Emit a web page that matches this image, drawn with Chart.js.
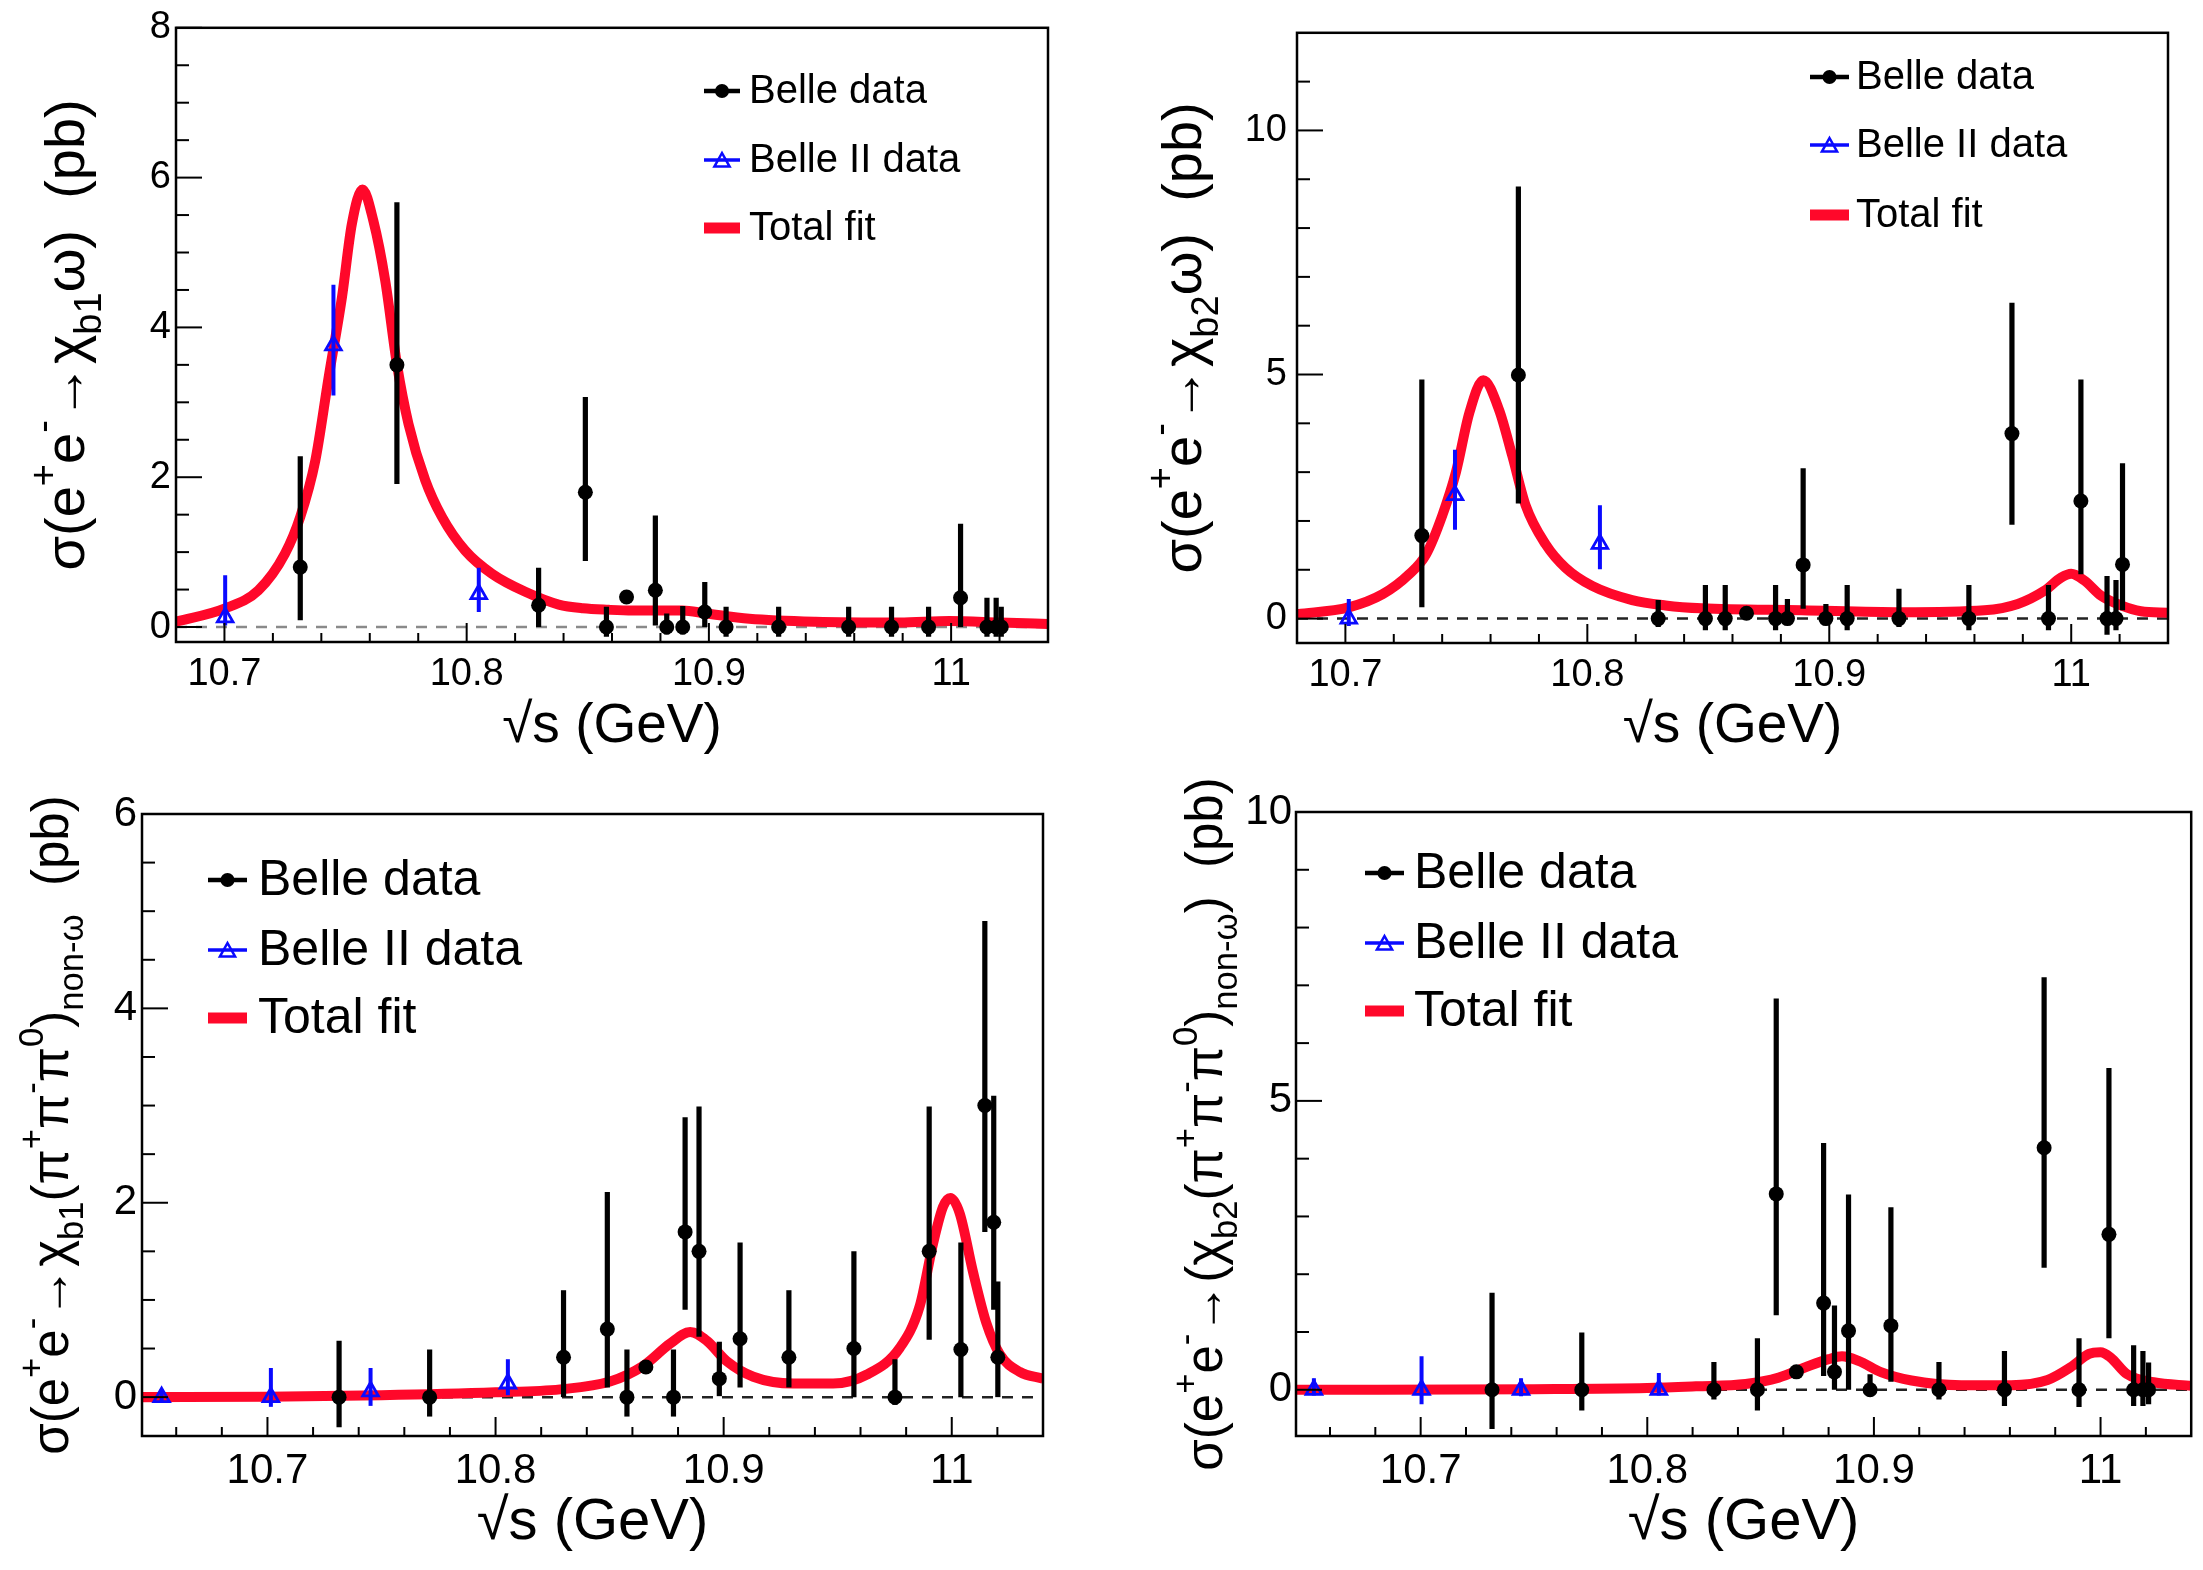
<!DOCTYPE html>
<html>
<head>
<meta charset="utf-8">
<script src="https://cdn.jsdelivr.net/npm/chart.js@4.4.0/dist/chart.umd.min.js"></script>
<style>
  html, body { margin: 0; padding: 0; background: #fff; }
  #wrap { position: relative; width: 2203px; height: 1570px; }
  canvas { position: absolute; }
</style>
</head>
<body>
<div id="wrap">
  <canvas id="c1"></canvas>
  <canvas id="c2"></canvas>
  <canvas id="c3"></canvas>
  <canvas id="c4"></canvas>
</div>
<script>
// ---------- chi_b1 omega ----------
const p1BelleX  = [10.7313, 10.7712, 10.8297, 10.849, 10.8577, 10.866, 10.8779, 10.8826, 10.8892, 10.8983, 10.9071, 10.9288, 10.9577, 10.9754, 10.9907, 11.0039, 11.0148, 11.0186, 11.0207];
const p1BelleY  = [0.80, 3.50, 0.29, 1.80, 0.00, 0.40, 0.49, 0.00, 0.00, 0.20, 0.00, 0.00, 0.00, 0.00, 0.00, 0.39, 0.00, 0.00, 0.00];
const p1BelleLo = [0.09, 1.91, 0.00, 0.88, -0.13, 0.36, 0.02, -0.10, -0.10, 0.00, -0.13, -0.13, -0.13, -0.13, -0.13, 0.00, -0.13, -0.13, -0.13];
const p1BelleHi = [2.28, 5.67, 0.79, 3.07, 0.27, 0.44, 1.49, 0.18, 0.28, 0.60, 0.27, 0.27, 0.27, 0.27, 0.27, 1.38, 0.39, 0.39, 0.27];
const p1Belle2X  = [10.7003, 10.745, 10.805];
const p1Belle2Y  = [0.13, 3.76, 0.44];
const p1Belle2Lo = [0.02, 3.09, 0.20];
const p1Belle2Hi = [0.69, 4.57, 0.79];
const p1FitX = [10.68, 10.70, 10.714, 10.725, 10.7313, 10.7375, 10.743, 10.7485, 10.7526, 10.757, 10.7615, 10.7664, 10.7712, 10.776, 10.7829, 10.7898, 10.7994, 10.8105, 10.8242, 10.838, 10.848, 10.8586, 10.8685, 10.889, 10.8989, 10.9167, 10.944, 10.9787, 10.9993, 11.02, 11.04];
const p1FitY = [0.07, 0.245, 0.49, 0.98, 1.47, 2.22, 3.33, 4.40, 5.38, 5.84, 5.42, 4.62, 3.51, 2.71, 1.96, 1.47, 1.02, 0.71, 0.47, 0.30, 0.25, 0.23, 0.22, 0.22, 0.18, 0.11, 0.07, 0.06, 0.08, 0.06, 0.04];

// ---------- chi_b2 omega ----------
const p2BelleX  = [10.7316, 10.7715, 10.8293, 10.8488, 10.857, 10.8658, 10.8778, 10.8827, 10.8892, 10.8986, 10.9074, 10.9288, 10.9577, 10.9755, 10.9906, 11.004, 11.0148, 11.0185, 11.0212];
const p2BelleY  = [1.70, 4.99, 0, 0, 0, 0.11, 0, 0, 1.10, 0, 0, 0, 0, 3.79, 0, 2.41, 0, 0, 1.11];
const p2BelleLo = [0.23, 2.36, -0.17, -0.24, -0.24, 0.05, -0.24, -0.13, 0.20, -0.13, -0.24, -0.17, -0.24, 1.92, -0.24, 0.91, -0.33, -0.24, 0.17];
const p2BelleHi = [4.90, 8.85, 0.38, 0.69, 0.69, 0.17, 0.69, 0.40, 3.08, 0.30, 0.69, 0.61, 0.69, 6.47, 0.69, 4.90, 0.87, 0.79, 3.18];
const p2Belle2X  = [10.7014, 10.7453, 10.8052];
const p2Belle2Y  = [0.0, 2.53, 1.53];
const p2Belle2Lo = [-0.15, 1.82, 1.01];
const p2Belle2Hi = [0.40, 3.46, 2.32];
const p2FitX = [10.68, 10.7014, 10.7154, 10.7264, 10.7333, 10.7401, 10.7457, 10.7512, 10.757, 10.7635, 10.769, 10.7745, 10.7828, 10.791, 10.802, 10.8185, 10.8323, 10.8473, 10.8886, 10.93, 10.9641, 10.9779, 10.9889, 10.9958, 11.0, 11.0054, 11.0123, 11.0206, 11.0288, 11.04];
const p2FitY = [0.09, 0.23, 0.50, 0.91, 1.31, 2.12, 3.00, 4.21, 4.88, 4.28, 3.33, 2.32, 1.52, 1.04, 0.67, 0.38, 0.27, 0.21, 0.17, 0.13, 0.17, 0.30, 0.57, 0.84, 0.92, 0.78, 0.47, 0.27, 0.15, 0.12];

// ---------- chi_b1 (pi+ pi- pi0) non-omega ----------
const p3BelleX  = [10.7314, 10.7711, 10.8298, 10.849, 10.8576, 10.8659, 10.878, 10.8831, 10.8892, 10.8981, 10.9072, 10.9286, 10.9571, 10.9751, 10.9901, 11.004, 11.0145, 11.0184, 11.0202];
const p3BelleY  = [0, 0, 0.41, 0.70, 0, 0.31, 0, 1.70, 1.50, 0.19, 0.60, 0.41, 0.50, 0, 1.50, 0.49, 3.00, 1.80, 0.41];
const p3BelleLo = [-0.31, -0.20, 0, 0.10, -0.20, 0.27, -0.20, 0.90, 0.62, 0.01, 0.10, 0.10, 0, -0.08, 0.59, 0, 1.70, 0.90, 0];
const p3BelleHi = [0.58, 0.49, 1.10, 2.11, 0.49, 0.35, 0.49, 2.88, 2.99, 0.57, 1.59, 1.10, 1.50, 0.39, 2.99, 1.59, 4.90, 3.10, 1.19];
const p3Belle2X  = [10.6536, 10.7015, 10.7452, 10.8054];
const p3Belle2Y  = [0, 0, 0.06, 0.14];
const p3Belle2Lo = [-0.06, -0.10, -0.09, 0.02];
const p3Belle2Hi = [0.08, 0.30, 0.30, 0.39];
const p3FitX = [10.645, 10.70, 10.75, 10.80, 10.8283, 10.8502, 10.8647, 10.8765, 10.8853, 10.8926, 10.9013, 10.913, 10.9305, 10.948, 10.9626, 10.9773, 10.986, 10.9918, 10.9962, 10.9994, 11.0035, 11.0093, 11.0152, 11.0211, 11.0298, 11.04];
const p3FitY = [0.0, 0.005, 0.02, 0.05, 0.08, 0.16, 0.32, 0.55, 0.67, 0.58, 0.37, 0.21, 0.14, 0.14, 0.23, 0.51, 0.94, 1.58, 1.96, 2.05, 1.89, 1.29, 0.76, 0.44, 0.26, 0.19];

// ---------- chi_b2 (pi+ pi- pi0) non-omega ----------
const p4BelleX  = [10.7315, 10.7711, 10.8294, 10.8486, 10.8569, 10.8658, 10.8778, 10.8826, 10.8888, 10.8983, 10.9075, 10.9287, 10.9576, 10.9751, 10.9905, 11.0037, 11.0146, 11.0187, 11.0212];
const p4BelleY  = [0, 0, 0, 0, 3.39, 0.31, 1.50, 0.31, 1.02, 0, 1.11, 0, 0, 4.19, 0, 2.69, 0, 0, 0];
const p4BelleLo = [-0.68, -0.36, -0.17, -0.36, 1.29, 0.26, 0.24, 0, 0, -0.05, 0.14, -0.17, -0.28, 2.11, -0.30, 0.89, -0.28, -0.28, -0.25];
const p4BelleHi = [1.68, 0.99, 0.48, 0.89, 6.77, 0.36, 4.27, 1.46, 3.38, 0.27, 3.16, 0.48, 0.67, 7.14, 0.89, 5.57, 0.77, 0.67, 0.47];
const p4Belle2X  = [10.6529, 10.7004, 10.7443, 10.8051];
const p4Belle2Y  = [0, 0, 0, 0];
const p4Belle2Lo = [-0.10, -0.25, -0.11, -0.10];
const p4Belle2Hi = [0.20, 0.58, 0.20, 0.29];
const p4FitX = [10.645, 10.75, 10.80, 10.8215, 10.8434, 10.858, 10.8698, 10.88, 10.8859, 10.8932, 10.9034, 10.9166, 10.9385, 10.9605, 10.9766, 10.9868, 10.9949, 11.0, 11.0044, 11.0117, 11.0234, 11.04];
const p4FitY = [0.0, 0.01, 0.03, 0.06, 0.10, 0.21, 0.39, 0.53, 0.58, 0.50, 0.30, 0.16, 0.08, 0.08, 0.17, 0.39, 0.62, 0.65, 0.56, 0.27, 0.13, 0.07];

// ---------- axes ----------
const xMajor = [10.7, 10.8, 10.9, 11];
const p1YMajor = [0, 2, 4, 6, 8];
const p2YMajor = [0, 5, 10];
const p3YMajor = [0, 2, 4, 6];
const p4YMajor = [0, 5, 10];
const legendLabels = ['Belle data', 'Belle II data', 'Total fit'];
const xTitle = '\u221As (GeV)';

// y titles as [text, 'sup'|'sub'|undefined] pieces
const p1Title = [['σ(e'], ['+', 'sup'], ['e'], ['-', 'sup'], ['→χ'], ['b1', 'sub'], ['ω)  (pb)']];
const p2Title = [['σ(e'], ['+', 'sup'], ['e'], ['-', 'sup'], ['→χ'], ['b2', 'sub'], ['ω)  (pb)']];
const p3Title = [['σ(e'], ['+', 'sup'], ['e'], ['-', 'sup'], ['→χ'], ['b1', 'sub'], ['(π'], ['+', 'sup'], ['π'], ['-', 'sup'], ['π'], ['0', 'sup'], [')'], ['non-ω', 'sub'], ['  (pb)']];
const p4Title = [['σ(e'], ['+', 'sup'], ['e'], ['-', 'sup'], ['→(χ'], ['b2', 'sub'], ['(π'], ['+', 'sup'], ['π'], ['-', 'sup'], ['π'], ['0', 'sup'], [')'], ['non-ω', 'sub'], [')  (pb)']];

const FONT = '"Liberation Sans", Arial, Helvetica, sans-serif';
const RED = 'rgb(255,8,42)';
const BLUE = '#0a0aff';

const panels = [
  { id: 'c1', left: 0, top: 0, w: 1100, h: 780,
    frame: { left: 176, top: 27, right: 1048, bottom: 642 },
    xMin: 10.68, xMax: 11.04, yMin: -0.2, yMax: 8, yMajor: p1YMajor, yMinorStep: 0.5,
    belle: { x: p1BelleX, y: p1BelleY, lo: p1BelleLo, hi: p1BelleHi },
    belle2: { x: p1Belle2X, y: p1Belle2Y, lo: p1Belle2Lo, hi: p1Belle2Hi },
    fit: { x: p1FitX, y: p1FitY },
    zeroColor: '#8a8a8a', title: p1Title, titleBase: 84, titleFont: 56,
    tickFont: 38, yPad: 5, xTitleY: 727, xTitleFont: 55,
    legend: { x0: 704, x1: 740, tx: 749, rows: [91, 160, 228], font: 40 } },
  { id: 'c2', left: 1100, top: 0, w: 1103, h: 780,
    frame: { left: 197, top: 25, right: 1068, bottom: 643 },
    xMin: 10.68, xMax: 11.04, yMin: -0.5, yMax: 12, yMajor: p2YMajor, yMinorStep: 1,
    belle: { x: p2BelleX, y: p2BelleY, lo: p2BelleLo, hi: p2BelleHi },
    belle2: { x: p2Belle2X, y: p2Belle2Y, lo: p2Belle2Lo, hi: p2Belle2Hi },
    fit: { x: p2FitX, y: p2FitY },
    zeroColor: '#222', title: p2Title, titleBase: 101, titleFont: 56,
    tickFont: 38, yPad: 10, xTitleY: 727, xTitleFont: 55,
    legend: { x0: 710, x1: 749, tx: 756, rows: [77, 145, 215], font: 40 } },
  { id: 'c3', left: 0, top: 780, w: 1100, h: 790,
    frame: { left: 142, top: 34, right: 1043, bottom: 656 },
    xMin: 10.645, xMax: 11.04, yMin: -0.4, yMax: 6, yMajor: p3YMajor, yMinorStep: 0.5,
    belle: { x: p3BelleX, y: p3BelleY, lo: p3BelleLo, hi: p3BelleHi },
    belle2: { x: p3Belle2X, y: p3Belle2Y, lo: p3Belle2Lo, hi: p3Belle2Hi },
    fit: { x: p3FitX, y: p3FitY },
    zeroColor: '#222', title: p3Title, titleBase: 68, titleFont: 51,
    tickFont: 42, yPad: 5, xTitleY: 743, xTitleFont: 58,
    legend: { x0: 208, x1: 247, tx: 258, rows: [100, 170, 238], font: 50 } },
  { id: 'c4', left: 1100, top: 780, w: 1103, h: 790,
    frame: { left: 196, top: 32, right: 1096, bottom: 656 },
    xMin: 10.645, xMax: 11.04, yMin: -0.8, yMax: 10, yMajor: p4YMajor, yMinorStep: 1,
    belle: { x: p4BelleX, y: p4BelleY, lo: p4BelleLo, hi: p4BelleHi },
    belle2: { x: p4Belle2X, y: p4Belle2Y, lo: p4Belle2Lo, hi: p4Belle2Hi },
    fit: { x: p4FitX, y: p4FitY },
    zeroColor: '#222', title: p4Title, titleBase: 122, titleFont: 51,
    tickFont: 42, yPad: 4, xTitleY: 743, xTitleFont: 58,
    legend: { x0: 265, x1: 304, tx: 314, rows: [93, 163, 231], font: 50 } }
];

function toPoints(xs, ys) {
  return xs.map((x, i) => ({ x: x, y: ys[i] }));
}

function minorValues(min, max, step, majors) {
  const out = [];
  for (let v = Math.ceil(min / step) * step; v < max - 1e-9; v += step) {
    const r = Math.round(v * 1000) / 1000;
    if (r <= min + 1e-9) continue;
    if (majors.some(m => Math.abs(m - r) < 1e-6)) continue;
    out.push(r);
  }
  return out;
}

function drawRich(ctx, parts, size) {
  const widths = parts.map(p => {
    ctx.font = (p[1] ? size * 0.68 : size) + 'px ' + FONT;
    return ctx.measureText(p[0]).width;
  });
  let x = -widths.reduce((a, b) => a + b, 0) / 2;
  parts.forEach((p, i) => {
    ctx.font = (p[1] ? size * 0.68 : size) + 'px ' + FONT;
    const dy = p[1] === 'sup' ? -0.5 * size : p[1] === 'sub' ? 0.3 * size : 0;
    ctx.fillText(p[0], x, dy);
    x += widths[i];
  });
}

function drawErrorBars(chart, set, color, width) {
  const ctx = chart.ctx, xs = chart.scales.x, ys = chart.scales.y;
  ctx.strokeStyle = color;
  ctx.lineWidth = width;
  set.x.forEach((xv, i) => {
    const px = xs.getPixelForValue(xv);
    ctx.beginPath();
    ctx.moveTo(px, ys.getPixelForValue(set.lo[i]));
    ctx.lineTo(px, ys.getPixelForValue(set.hi[i]));
    ctx.stroke();
  });
}

function drawTriangle(ctx, x, y, r) {
  ctx.beginPath();
  ctx.moveTo(x, y - r);
  ctx.lineTo(x + r * 0.95, y + r * 0.7);
  ctx.lineTo(x - r * 0.95, y + r * 0.7);
  ctx.closePath();
  ctx.stroke();
}

const rootStyle = {
  id: 'rootStyle',
  beforeDraw(chart) {
    const ctx = chart.ctx;
    ctx.save();
    ctx.fillStyle = '#fff';
    ctx.fillRect(0, 0, chart.width, chart.height);
    ctx.restore();
  },
  afterDatasetDraw(chart, args) {
    // error bars go over the fit curve but under the markers
    if (args.index !== 2) return;
    const p = chart.options.plugins.rootStyle.panel;
    const a = chart.chartArea, ctx = chart.ctx;
    ctx.save();
    ctx.beginPath();
    ctx.rect(a.left, a.top, a.right - a.left, a.bottom - a.top);
    ctx.clip();
    drawErrorBars(chart, p.belle2, BLUE, 4);
    drawErrorBars(chart, p.belle, '#000', 5.2);
    ctx.restore();
  },
  afterDraw(chart) {
    const p = chart.options.plugins.rootStyle.panel;
    const ctx = chart.ctx, a = chart.chartArea;
    const xs = chart.scales.x, ys = chart.scales.y;
    ctx.save();
    ctx.strokeStyle = '#000';
    ctx.lineWidth = 2;
    // tick marks point into the frame
    xMajor.forEach(v => {
      const px = xs.getPixelForValue(v);
      ctx.beginPath(); ctx.moveTo(px, a.bottom); ctx.lineTo(px, a.bottom - 19); ctx.stroke();
    });
    minorValues(p.xMin, p.xMax, 0.02, xMajor).forEach(v => {
      const px = xs.getPixelForValue(v);
      ctx.beginPath(); ctx.moveTo(px, a.bottom); ctx.lineTo(px, a.bottom - 9); ctx.stroke();
    });
    p.yMajor.forEach(v => {
      const py = ys.getPixelForValue(v);
      ctx.beginPath(); ctx.moveTo(a.left, py); ctx.lineTo(a.left + 26, py); ctx.stroke();
    });
    minorValues(p.yMin, p.yMax, p.yMinorStep, p.yMajor).forEach(v => {
      const py = ys.getPixelForValue(v);
      ctx.beginPath(); ctx.moveTo(a.left, py); ctx.lineTo(a.left + 13, py); ctx.stroke();
    });
    ctx.lineWidth = 2.5;
    ctx.strokeRect(a.left, a.top, a.right - a.left, a.bottom - a.top);

    // legend
    const L = p.legend, mid = (L.x0 + L.x1) / 2;
    ctx.lineWidth = 4.5;
    ctx.strokeStyle = '#000';
    ctx.beginPath(); ctx.moveTo(L.x0, L.rows[0]); ctx.lineTo(L.x1, L.rows[0]); ctx.stroke();
    ctx.fillStyle = '#000';
    ctx.beginPath(); ctx.arc(mid, L.rows[0], 7, 0, Math.PI * 2); ctx.fill();
    ctx.strokeStyle = BLUE;
    ctx.lineWidth = 3.5;
    ctx.beginPath(); ctx.moveTo(L.x0, L.rows[1]); ctx.lineTo(L.x1, L.rows[1]); ctx.stroke();
    ctx.lineWidth = 2.5;
    drawTriangle(ctx, mid, L.rows[1] + 1, 8);
    ctx.strokeStyle = RED;
    ctx.lineWidth = 11;
    ctx.beginPath(); ctx.moveTo(L.x0, L.rows[2]); ctx.lineTo(L.x1, L.rows[2]); ctx.stroke();
    ctx.fillStyle = '#000';
    ctx.textAlign = 'left';
    ctx.textBaseline = 'middle';
    ctx.font = L.font + 'px ' + FONT;
    legendLabels.forEach((t, i) => ctx.fillText(t, L.tx, L.rows[i] + 1));

    // axis titles
    ctx.textAlign = 'center';
    ctx.font = p.xTitleFont + 'px ' + FONT;
    ctx.fillText(xTitle, (a.left + a.right) / 2, p.xTitleY);
    ctx.translate(p.titleBase, (a.top + a.bottom) / 2);
    ctx.rotate(-Math.PI / 2);
    ctx.textAlign = 'left';
    ctx.textBaseline = 'alphabetic';
    drawRich(ctx, p.title, p.titleFont);
    ctx.restore();
  }
};

panels.forEach(p => {
  const cv = document.getElementById(p.id);
  cv.width = p.w;
  cv.height = p.h;
  cv.style.left = p.left + 'px';
  cv.style.top = p.top + 'px';
  cv.style.width = p.w + 'px';
  cv.style.height = p.h + 'px';
  const f = p.frame;

  new Chart(cv.getContext('2d'), {
    type: 'scatter',
    data: {
      datasets: [
        { label: 'Belle data', data: toPoints(p.belle.x, p.belle.y),
          pointRadius: 7.5, pointBackgroundColor: '#000', pointBorderWidth: 0, order: 0 },
        { label: 'Belle II data', data: toPoints(p.belle2.x, p.belle2.y),
          pointStyle: 'triangle', pointRadius: 9, pointBorderColor: BLUE, pointBorderWidth: 2.8,
          pointBackgroundColor: 'rgba(0,0,0,0)', order: 1 },
        { label: 'Total fit', data: toPoints(p.fit.x, p.fit.y), showLine: true,
          borderColor: RED, borderWidth: 10, pointRadius: 0, cubicInterpolationMode: 'monotone', order: 2 },
        { label: 'zero', data: toPoints([p.xMin, p.xMax], [0, 0]), showLine: true,
          borderColor: p.zeroColor, borderWidth: 2.5, borderDash: [11, 9], pointRadius: 0, order: 3 }
      ]
    },
    options: {
      responsive: false,
      animation: false,
      devicePixelRatio: 1,
      layout: { padding: { top: f.top, right: p.w - f.right, left: 0, bottom: 0 } },
      plugins: {
        legend: { display: false },
        tooltip: { enabled: false },
        rootStyle: { panel: p }
      },
      scales: {
        x: {
          type: 'linear', min: p.xMin, max: p.xMax,
          grid: { display: false, drawTicks: false },
          border: { display: false },
          ticks: { color: '#000', padding: 10, font: { family: FONT, size: p.tickFont }, callback: v => String(v) },
          afterBuildTicks: s => { s.ticks = xMajor.map(v => ({ value: v })); },
          afterFit: s => { s.height = p.h - f.bottom; }
        },
        y: {
          type: 'linear', min: p.yMin, max: p.yMax,
          grid: { display: false, drawTicks: false },
          border: { display: false },
          ticks: { color: '#000', padding: p.yPad, font: { family: FONT, size: p.tickFont }, callback: v => String(v) },
          afterBuildTicks: s => { s.ticks = p.yMajor.map(v => ({ value: v })); },
          afterFit: s => { s.width = f.left; }
        }
      }
    },
    plugins: [rootStyle]
  });
});
</script>
</body>
</html>
